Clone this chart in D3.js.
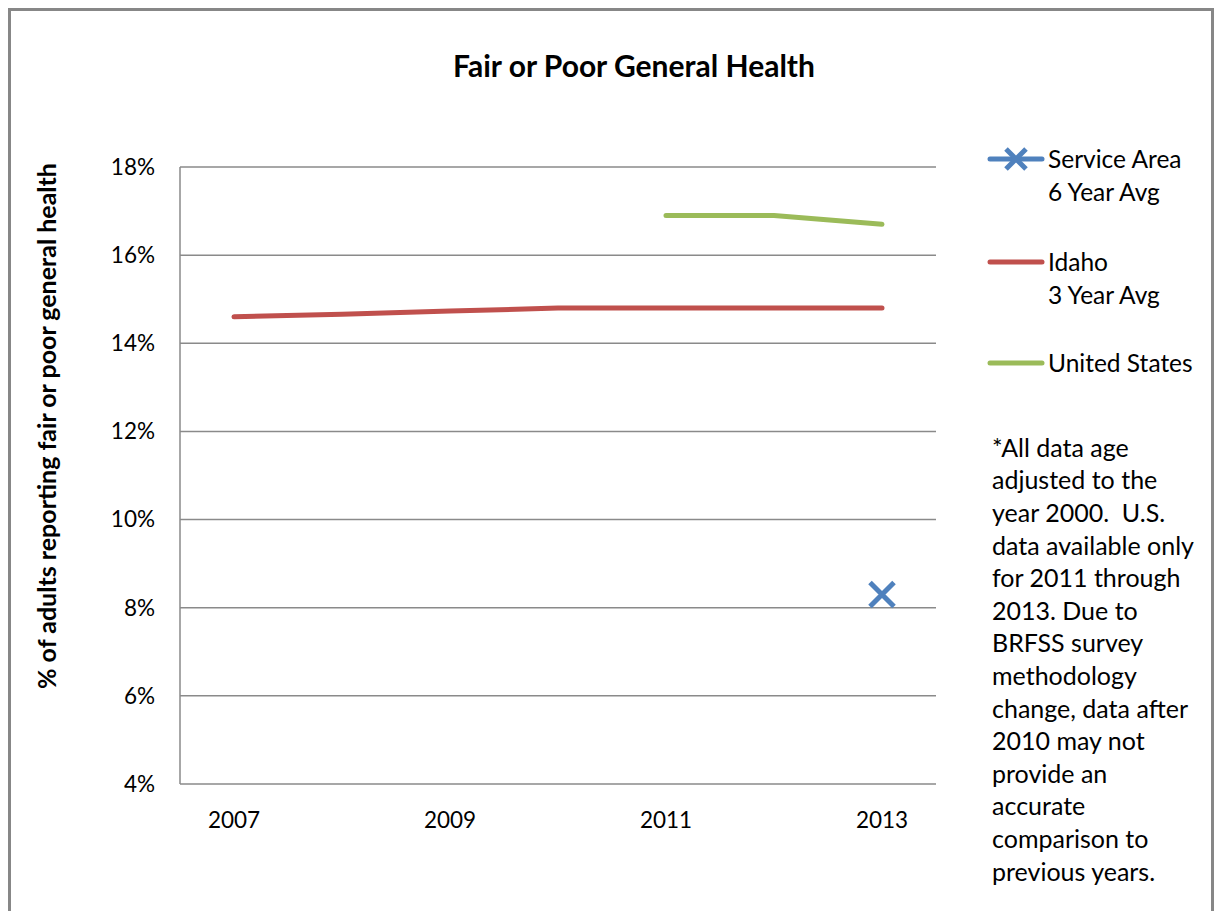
<!DOCTYPE html>
<html><head><meta charset="utf-8">
<script src="https://cdn.jsdelivr.net/npm/d3@7"></script>
<style>
html,body{margin:0;padding:0;background:#fff;}
text{font-family:Lato,"Open Sans",sans-serif;fill:#000;}
</style></head>
<body>
<svg id="chart" width="1216" height="911"></svg>
<script>
const years = ["2007","2008","2009","2010","2011","2012","2013"];
const tickYears = ["2007","2009","2011","2013"];
const serviceArea = [null,null,null,null,null,null,8.3];
const idaho = [14.6,14.66,14.73,14.8,14.8,14.8,14.8];
const unitedStates = [null,null,null,null,16.9,16.9,16.7];
const yTicks = [4,6,8,10,12,14,16,18];
const seriesNames = ["Service Area","Idaho","United States"];
const seriesSub = ["6 Year Avg","3 Year Avg",""];
const seriesColors = ["#4F81BD","#C0504D","#9BBB59"];
const noteLines = ["*All data age","adjusted to the","year 2000.  U.S.","data available only","for 2011 through","2013. Due to","BRFSS survey","methodology","change, data after","2010 may not","provide an","accurate","comparison to","previous years."];

(function(){
const svg = d3.select("#chart");
svg.append("rect").attr("x",9.5).attr("y",9.5).attr("width",1203).attr("height",1000)
  .attr("fill","none").attr("stroke","#878787").attr("stroke-width",3);

const pLeft=180, pRight=936, pTop=167, pBottom=784;
const x = d3.scalePoint().domain(years).range([pLeft,pRight]).padding(0.5);
const y = d3.scaleLinear().domain([4,18]).range([pBottom,pTop]);

svg.append("g").selectAll("line").data(yTicks).join("line")
  .attr("x1",pLeft).attr("x2",pRight).attr("y1",d=>y(d)).attr("y2",d=>y(d))
  .attr("stroke","#8a8a8a").attr("stroke-width",1.5);
svg.append("line").attr("x1",pLeft).attr("x2",pLeft).attr("y1",pTop).attr("y2",pBottom)
  .attr("stroke","#8a8a8a").attr("stroke-width",1.5);

svg.append("g").selectAll("text").data(yTicks).join("text")
  .attr("x",155).attr("y",d=>y(d)).attr("dy","0.35em").attr("text-anchor","end")
  .style("font-size","22.5px").text(d=>d+"%");
svg.append("g").selectAll("text").data(tickYears).join("text")
  .attr("x",d=>x(d)).attr("y",820).attr("dy","0.35em").attr("text-anchor","middle")
  .style("font-size","22.5px").text(d=>d);

svg.append("text").attr("x",634).attr("y",66).attr("dy","0.35em").attr("text-anchor","middle")
  .style("font-size","30px").style("font-weight","bold").text("Fair or Poor General Health");
svg.append("text").attr("transform","translate(47,426) rotate(-90)").attr("dy","0.35em")
  .attr("text-anchor","middle").style("font-size","25px").style("font-weight","bold")
  .text("% of adults reporting fair or poor general health");

const line = d3.line().defined(d=>d[1]!=null).x(d=>x(d[0])).y(d=>y(d[1]));
[idaho, unitedStates].forEach((s,i)=>{
  svg.append("path").datum(years.map((yr,j)=>[yr,s[j]]))
    .attr("d",line).attr("fill","none").attr("stroke",seriesColors[i+1])
    .attr("stroke-width",5).attr("stroke-linecap","round").attr("stroke-linejoin","round");
});
function xMark(g,cx,cy,r,color){
  g.append("path").attr("d",`M${cx-r},${cy-r}L${cx+r},${cy+r}M${cx-r},${cy+r}L${cx+r},${cy-r}`)
   .attr("stroke",color).attr("stroke-width",5).attr("fill","none");
}
years.forEach((yr,j)=>{ if(serviceArea[j]!=null) xMark(svg,x(yr),y(serviceArea[j]),12,seriesColors[0]); });

const legY = [159,262,363];
seriesNames.forEach((n,i)=>{
  svg.append("line").attr("x1",990).attr("x2",1042).attr("y1",legY[i]).attr("y2",legY[i])
    .attr("stroke",seriesColors[i]).attr("stroke-width",5).attr("stroke-linecap","round");
  if(i===0) xMark(svg,1016,legY[i],10,seriesColors[0]);
  const t = svg.append("text").style("font-size","24.5px");
  t.append("tspan").attr("x",1048).attr("y",legY[i]).attr("dy","0.35em").text(n);
  if(seriesSub[i]) t.append("tspan").attr("x",1048).attr("y",legY[i]+33).attr("dy","0.35em").text(seriesSub[i]);
});

const note = svg.append("text").style("font-size","25px").style("white-space","pre");
noteLines.forEach((l,i)=>{
  note.append("tspan").attr("x",992).attr("y",448+i*32.6).attr("dy","0.35em").text(l);
});
})();
</script>
</body></html>
